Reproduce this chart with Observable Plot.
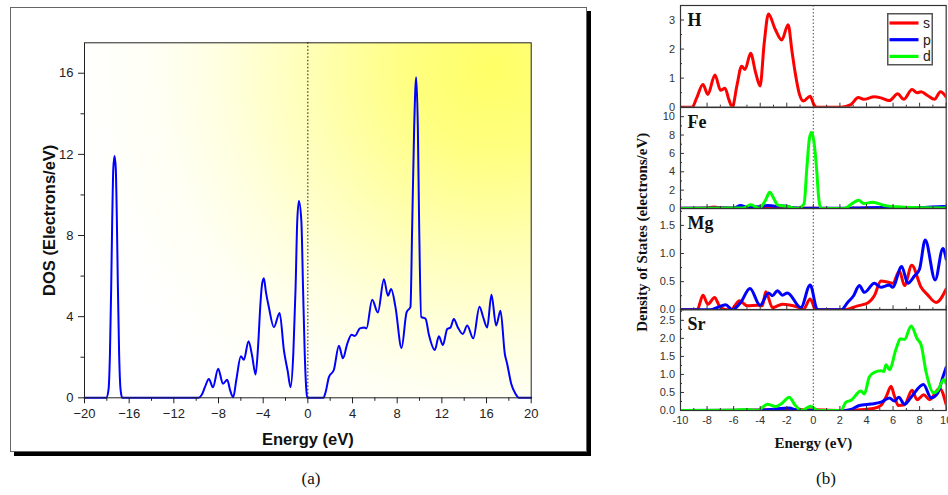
<!DOCTYPE html>
<html><head><meta charset="utf-8">
<script src="https://cdn.jsdelivr.net/npm/d3@7"></script>
<script src="https://cdn.jsdelivr.net/npm/@observablehq/plot@0.6"></script>
<style>
body{margin:0;width:948px;height:495px;position:relative;overflow:hidden;background:#fff;}
.abs{position:absolute;}
#boxA{left:9.5px;top:6.5px;width:577px;height:445px;border:1.5px solid #666;box-shadow:4px 4px 0 #000;box-sizing:border-box;background:#fff;}
.cap{font-family:"Liberation Serif","Times New Roman",serif;font-size:17px;line-height:17px;text-align:center;color:#111;}
svg{overflow:visible;}
</style></head><body>
<div id="boxA" class="abs"></div>
<div id="left" class="abs" style="left:0;top:0"></div>
<div id="pH" class="abs"></div>
<div id="pFe" class="abs"></div>
<div id="pMg" class="abs"></div>
<div id="pSr" class="abs"></div>
<div id="legend" class="abs" style="left:886.7px;top:13.3px"></div>
<div class="abs cap" style="left:261px;top:470px;width:100px">(a)</div>
<div class="abs cap" style="left:776px;top:470px;width:100px">(b)</div>
<script>
// ---------- data: (a) total DOS, [energy eV, DOS] ----------
const totalDOS = [[-20,0],[-18.05,0],[-17.85,0.4],[-17.72,2.2],[-17.61,5.44],[-17.52,8.7],[-17.42,11.3],[-17.31,11.92],[-17.2,11.3],[-17.1,8.7],[-17.01,5.44],[-16.9,2.2],[-16.77,0.4],[-16.62,0],
[-9.8,0],[-9.5,0.15],[-9.2,0.55],[-8.86,0.93],[-8.5,0.52],[-8.03,1.43],[-7.6,0.69],[-7.22,0.89],[-6.95,0.35],[-6.68,0.03],[-6.4,0.9],[-6.0,2.05],[-5.73,1.87],[-5.31,2.79],[-5.0,2.1],[-4.68,1.15],[-4.45,2.6],[-4.25,4.6],[-4.1,5.6],[-3.94,5.89],[-3.75,5.2],[-3.49,4.46],[-3.04,3.48],[-2.53,4.18],[-2.14,2.33],[-1.8,1.3],[-1.55,0.52],[-1.3,2.2],[-1.1,5.4],[-0.95,8.7],[-0.8,9.7],[-0.58,8.7],[-0.43,5.4],[-0.28,2.2],[-0.15,0.5],[-0.06,0],
[1.4,0],[1.6,0.3],[1.88,1.01],[2.33,1.38],[2.78,2.57],[3.14,1.95],[3.52,2.65],[3.91,3.11],[4.21,3.05],[4.66,3.42],[5.08,3.47],[5.25,3.42],[5.76,4.83],[6.27,4.21],[6.81,5.85],[7.17,5.03],[7.46,5.36],[7.85,4.46],[8.39,2.46],[8.84,4.21],[9.19,4.49],[9.34,8.4],[9.52,13.3],[9.7,15.8],[9.85,13.3],[9.97,8.4],[10.15,3.99],[10.54,3.9],[10.84,3.11],[11.37,2.36],[11.73,3.03],[12.09,2.6],[12.48,3.39],[12.78,3.47],[13.07,3.88],[13.43,3.47],[13.88,3.15],[14.27,3.56],[14.81,2.93],[15.37,4.49],[15.7,3.97],[16.06,3.47],[16.44,5.08],[16.86,3.56],[17.25,4.29],[17.64,2.16],[17.85,1.67],[18.21,0.69],[18.59,0.2],[18.89,0],[20,0]];

// ---------- data: (b) partial DOS ----------
const H_s = [[-10,0],[-9.12,0],[-8.8,0.3],[-8.31,0.78],[-7.94,0.44],[-7.41,1.11],[-6.98,0.58],[-6.65,0.65],[-6.35,0.25],[-6.1,0],[-5.75,0.75],[-5.4,1.41],[-5.14,1.3],[-4.72,1.86],[-4.35,1.2],[-4.01,0.73],[-3.7,2.2],[-3.38,3.21],[-2.88,2.69],[-2.38,2.31],[-1.9,2.84],[-1.6,1.9],[-1.37,1.19],[-1.05,0.45],[-0.74,0.21],[-0.24,0.38],[0.05,0.08],[0.26,0],[2.08,0],[2.83,0.09],[3.38,0.33],[3.79,0.27],[4.59,0.36],[5.09,0.32],[5.72,0.23],[6.35,0.46],[6.8,0.27],[7.43,0.61],[7.81,0.5],[8.11,0.53],[8.6,0.4],[9.12,0.27],[9.57,0.53],[10,0.35]];

const Fe_s = [[-10,0.02],[-8,0.05],[-7.48,0.15],[-7,0.08],[-6,0.04],[-4,0.05],[-3.3,0.12],[-2.5,0.05],[0,0.02],[2,0],[5,0.03],[10,0.03]];
const Fe_p = [[-10,0.02],[-6,0.05],[-5.47,0.33],[-5,0.15],[-4,0.2],[-3.46,0.33],[-2.9,0.25],[-2.2,0.28],[-1.5,0.08],[-0.5,0.02],[0,0.02],[2,0.02],[4,0.08],[6,0.1],[8,0.1],[9.8,0.22],[10,0.18]];
const Fe_d = [[-10,0],[-5.3,0.05],[-4.72,0.4],[-4.09,0.04],[-3.6,0.9],[-3.28,1.78],[-2.95,1.0],[-2.7,0.4],[-1.95,0.22],[-1.2,0],[-0.7,0.5],[-0.49,4.4],[-0.3,7.6],[-0.14,8.3],[0.05,7.2],[0.24,4.4],[0.4,1.2],[0.57,0],[2.33,0],[2.96,0.58],[3.41,0.91],[3.79,0.54],[4.47,0.69],[5.35,0.33],[6.35,0.18],[7.6,0.1],[10,0.05]];

const Mg_s = [[-10,0],[-8.74,0],[-8.31,0.26],[-7.94,0.1],[-7.43,0.22],[-7.1,0.08],[-6.73,0.01],[-6.23,0],[-5.55,0.16],[-4.97,0.07],[-4.21,0.08],[-3.84,0.07],[-3.58,0.32],[-3.08,0.04],[-2.33,0.1],[-1.19,0.05],[-0.74,0.01],[-0.24,0.19],[0.19,0],[2.33,0],[3.33,0.07],[4.09,0.12],[4.59,0.25],[5.09,0.51],[5.47,0.5],[5.97,0.47],[6.48,0.69],[6.86,0.43],[7.41,0.79],[8.11,0.4],[8.62,0.26],[9.25,0.13],[10,0.37]];
const Mg_p = [[-10,0],[-7.74,0],[-7.23,0.04],[-6.6,0.09],[-6.1,0],[-5.47,0.13],[-4.77,0.38],[-4.01,0.08],[-3.38,0.3],[-3.08,0.25],[-2.7,0.34],[-2.33,0.26],[-1.95,0.3],[-0.94,0.04],[-0.24,0.44],[0.31,0],[2.1,0],[2.58,0.13],[3.03,0.25],[3.46,0.43],[3.84,0.31],[4.59,0.47],[5.09,0.4],[5.72,0.44],[5.97,0.4],[6.65,0.77],[7.11,0.47],[7.61,0.6],[7.99,0.72],[8.42,1.24],[9.17,0.53],[9.75,1.09],[10,0.9]];

const Sr_s = [[-10,0],[-5,0.01],[-2,0.03],[0,0.02],[2,0],[3.84,0.03],[4.59,0.06],[5.09,0.14],[5.5,0.4],[5.85,0.67],[6.1,0.4],[6.4,0.14],[6.86,0.16],[7.43,0.56],[7.81,0.3],[8.31,0.44],[8.74,0.3],[9.5,0.62],[10,0.16]];
const Sr_p = [[-10,0],[-4,0.01],[-3.2,0.03],[-1.82,0.07],[-1.2,0],[2.4,0],[2.83,0.03],[3.46,0.14],[4.34,0.18],[5.09,0.23],[5.72,0.35],[6.1,0.26],[6.43,0.37],[6.86,0.17],[7.36,0.37],[8.29,0.72],[8.87,0.35],[9.37,0.49],[9.75,0.93],[10,1.2]];
const Sr_d = [[-10,0],[-6,0.01],[-4.97,0.03],[-4.21,0],[-3.46,0.17],[-2.83,0.11],[-2.33,0.21],[-1.82,0.37],[-1.4,0.16],[-0.87,0],[-0.19,0.12],[0.31,0],[2.08,0],[2.45,0.23],[2.83,0.28],[3.58,0.54],[3.84,0.46],[4.21,0.93],[4.59,1.06],[5.09,1.1],[5.3,1.08],[5.47,1.27],[5.72,1.13],[6.23,1.71],[6.55,1.99],[6.86,1.97],[7.36,2.34],[7.81,1.99],[8.11,1.82],[8.49,1.06],[9.07,0.49],[9.37,0.56],[9.82,0.86],[10,0.74]];

const orbitals = ["s", "p", "d"];
const orbitalColors = ["#ff0000", "#0000ff", "#00ff00"];

// ---------- ticks ----------
const leftXMajor = [-20,-16,-12,-8,-4,0,4,8,12,16,20];
const leftXMinor = [-18,-14,-10,-6,-2,2,6,10,14,18];
const leftYMajor = [0,4,8,12,16];
const leftYMinor = [2,6,10,14];
const rightXMajor = [-10,-8,-6,-4,-2,0,2,4,6,8,10];
const rightXMinor = [-9,-7,-5,-3,-1,1,3,5,7,9];
const H_ticks = [0,1,2,3], H_minor = [0.5,1.5,2.5];
const Fe_ticks = [0,2,4,6,8,10], Fe_minor = [1,3,5,7,9];
const Mg_ticks = [0,0.5,1.0,1.5], Mg_minor = [0.25,0.75,1.25,1.75];
const Sr_ticks = [0,0.5,1.0,1.5,2.0,2.5], Sr_minor = [0.25,0.75,1.25,1.75,2.25,2.75];

const SANS = "'Liberation Sans', Arial, sans-serif";
const SERIF = "'Liberation Serif', 'Times New Roman', serif";
const minusFmt = d => d < 0 ? "\u2212" + Math.abs(d) : String(d);

// ---------- (a) ----------
const leftPlot = Plot.plot({
  width: 600, height: 470,
  marginLeft: 84, marginRight: 69.3, marginTop: 42.3, marginBottom: 72.7,
  x: {domain: [-20, 20], axis: null},
  y: {domain: [0, 17.5], axis: null},
  style: {background: "transparent", fontFamily: SANS, fontSize: "13px", color: "#222", overflow: "visible"},
  marks: [
    Plot.frame({fill: "url(#yg)", stroke: "none"}),
    Plot.ruleX([0], {stroke: "#111", strokeDasharray: "1.5,2", strokeWidth: 1}),
    Plot.line(totalDOS, {x: d => d[0], y: d => d[1], stroke: "#0000ff", strokeWidth: 2, curve: "monotone-x"}),
    Plot.frame({stroke: "#222", strokeWidth: 1}),
    Plot.axisX({ticks: leftXMajor, tickSize: 6, tickPadding: 5, tickFormat: minusFmt, label: null}),
    Plot.axisX({ticks: leftXMinor, tickSize: 3.5, tickFormat: () => "", label: null}),
    Plot.axisY({ticks: leftYMajor, tickSize: 6, tickPadding: 5, label: null}),
    Plot.axisY({ticks: leftYMinor, tickSize: 3.5, tickFormat: () => "", label: null}),
    Plot.text(["Energy (eV)"], {frameAnchor: "bottom", dy: 42.2, lineAnchor: "middle", textAnchor: "middle", fontWeight: "bold", fontSize: 16.5, fill: "#111"}),
    Plot.text(["DOS (Electrons/eV)"], {frameAnchor: "left", dx: -35, rotate: -90, textAnchor: "middle", lineAnchor: "middle", fontWeight: "bold", fontSize: 16.5, fill: "#111"})
  ]
});
const defs = d3.select(leftPlot).insert("defs", ":first-child");
const grad = defs.append("radialGradient").attr("id", "yg").attr("gradientUnits", "userSpaceOnUse")
  .attr("cx", 494).attr("cy", 67).attr("r", 420);
[[0, "#ffff66"], [0.2, "#ffff80"], [0.45, "#ffffb8"], [0.65, "#ffffe0"], [0.8, "#fffff4"], [1, "#ffffff"]]
  .forEach(([o, c]) => grad.append("stop").attr("offset", o).attr("stop-color", c));
document.getElementById("left").appendChild(leftPlot);

// ---------- (b) ----------
function panel(o) {
  const fh = o.bottom - o.top, fw = 265.7;
  const mt = 10, mb = o.last ? 46 : 10;
  const marks = [
    Plot.ruleX([0], {stroke: "#777", strokeDasharray: "1.5,2", strokeWidth: 1.3}),
    ...o.series.map(s => Plot.line(s.data, {x: d => d[0], y: d => d[1], stroke: orbitalColors[orbitals.indexOf(s.orb)], strokeWidth: 3, curve: "monotone-x", clip: true})),
    Plot.frame({stroke: "#333", strokeWidth: 1.2}),
    Plot.tickY(o.ticks, {y: d => d, insetRight: fw - 4, stroke: "#333"}),
    Plot.tickY(o.minor, {y: d => d, insetRight: fw - 2, stroke: "#333"}),
    Plot.tickX(rightXMajor, {x: d => d, insetTop: fh - 4, stroke: "#333"}),
    Plot.tickX(rightXMinor, {x: d => d, insetTop: fh - 2, stroke: "#333"}),
    Plot.axisY({ticks: o.ticks, tickSize: 0, tickPadding: 5.5, tickFormat: o.fmt, label: null}),
    Plot.text([o.name], {frameAnchor: "top-left", dx: 7, dy: 8, lineAnchor: "top", textAnchor: "start", fontFamily: SERIF, fontWeight: "bold", fontSize: 18, fill: "#111"})
  ];
  if (o.last) {
    marks.push(Plot.axisX({ticks: rightXMajor, tickSize: 0, tickPadding: 6, tickFormat: d => String(d), label: null}));
    marks.push(Plot.text(["Energy (eV)"], {frameAnchor: "bottom", dy: 32.5, lineAnchor: "middle", textAnchor: "middle", fontFamily: SERIF, fontWeight: "bold", fontSize: 15, fill: "#111"}));
  }
  if (o.ylabel) {
    marks.push(Plot.text([o.ylabel], {frameAnchor: "left", dx: -38.3, dy: 231.5 - (o.top + o.bottom) / 2, rotate: -90, textAnchor: "middle", lineAnchor: "middle", fontFamily: SERIF, fontWeight: "bold", fontSize: 15, fill: "#111"}));
  }
  const p = Plot.plot({
    width: 348, height: fh + mt + mb,
    marginLeft: 80, marginRight: 2.3, marginTop: mt, marginBottom: mb,
    x: {domain: [-10, 10], axis: null},
    y: {domain: o.domain, axis: null},
    style: {background: "transparent", fontFamily: SANS, fontSize: "11px", color: "#333", overflow: "visible"},
    marks
  });
  const div = document.getElementById(o.id);
  div.style.left = "600px";
  div.style.top = (o.top - mt) + "px";
  div.appendChild(p);
}
const f1 = d => d.toFixed(1);
panel({id: "pH", name: "H", top: 5, bottom: 106.7, domain: [0, 3.5], ticks: H_ticks, minor: H_minor, fmt: d => String(d),
  series: [{orb: "s", data: H_s}]});
panel({id: "pFe", name: "Fe", top: 106.7, bottom: 207.7, domain: [0, 11], ticks: Fe_ticks, minor: Fe_minor, fmt: d => String(d),
  series: [{orb: "s", data: Fe_s}, {orb: "p", data: Fe_p}, {orb: "d", data: Fe_d}]});
panel({id: "pMg", name: "Mg", top: 207.7, bottom: 309, domain: [0, 1.8], ticks: Mg_ticks, minor: Mg_minor, fmt: f1,
  series: [{orb: "s", data: Mg_s}, {orb: "p", data: Mg_p}], ylabel: "Density of States (electrons/eV)"});
panel({id: "pSr", name: "Sr", top: 309, bottom: 410, domain: [0, 2.8], ticks: Sr_ticks, minor: Sr_minor, fmt: f1, last: true,
  series: [{orb: "s", data: Sr_s}, {orb: "p", data: Sr_p}, {orb: "d", data: Sr_d}]});

// ---------- legend ----------
const lg = d3.select("#legend").append("svg").attr("width", 46).attr("height", 53).style("overflow", "visible");
lg.append("rect").attr("x", 0.75).attr("y", 0.75).attr("width", 44.5).attr("height", 51).attr("fill", "#fff").attr("stroke", "#555").attr("stroke-width", 1.5);
orbitals.forEach((k, i) => {
  const y = 10 + i * 16.7;
  lg.append("line").attr("x1", 2.5).attr("x2", 31.5).attr("y1", y).attr("y2", y).attr("stroke", orbitalColors[i]).attr("stroke-width", 3.2);
  lg.append("text").attr("x", 36).attr("y", y + 5).attr("font-family", SANS).attr("font-size", 14).attr("fill", "#222").text(k);
});
</script>
</body></html>
